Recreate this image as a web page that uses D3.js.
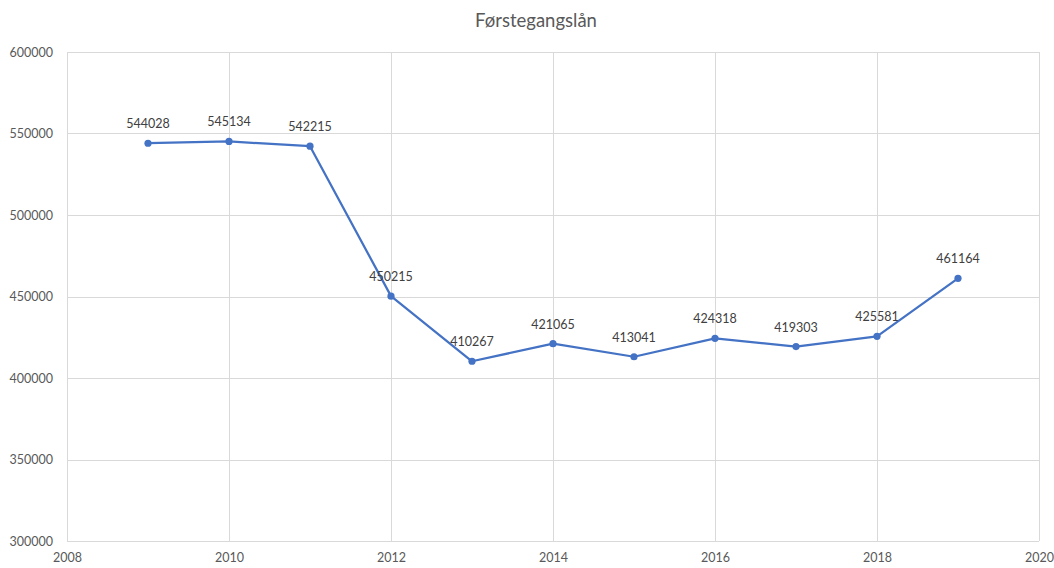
<!DOCTYPE html>
<html>
<head>
<meta charset="utf-8">
<script src="https://cdn.jsdelivr.net/npm/d3@7"></script>
<style>
  html, body { margin: 0; padding: 0; background: #fff; }
  svg { display: block; font-family: Lato, "Noto Sans", sans-serif; }
</style>
</head>
<body>
<svg id="chart" width="1054" height="568"></svg>
<script>
// data
const years = [2009, 2010, 2011, 2012, 2013, 2014, 2015, 2016, 2017, 2018, 2019];
const values = [544028, 545134, 542215, 450215, 410267, 421065, 413041, 424318, 419303, 425581, 461164];
const xTicks = [2008, 2010, 2012, 2014, 2016, 2018, 2020];
const yTicks = [300000, 350000, 400000, 450000, 500000, 550000, 600000];
const title = 'Førstegangslån';

const width = 1054, height = 568;
const margin = { top: 52, right: 15, bottom: 27, left: 67 };

const svg = d3.select('#chart');

const x = d3.scaleLinear([2008, 2020], [margin.left, width - margin.right]);
const y = d3.scaleLinear([300000, 600000], [height - margin.bottom, margin.top]);

// title
svg.append('text')
  .attr('x', 536)
  .attr('y', 27)
  .attr('text-anchor', 'middle')
  .attr('font-size', 18.5)
  .attr('fill', '#595959')
  .text(title);

// grid
const grid = svg.append('g').attr('stroke', '#d9d9d9').attr('stroke-width', 1);
grid.selectAll('.hgrid')
  .data(yTicks)
  .join('line')
    .attr('class', 'hgrid')
    .attr('x1', margin.left).attr('x2', width - margin.right)
    .attr('y1', d => Math.round(y(d)) + 0.5).attr('y2', d => Math.round(y(d)) + 0.5);
grid.selectAll('.vgrid')
  .data(xTicks)
  .join('line')
    .attr('class', 'vgrid')
    .attr('x1', d => Math.round(x(d)) + 0.5).attr('x2', d => Math.round(x(d)) + 0.5)
    .attr('y1', margin.top).attr('y2', height - margin.bottom);

// axes (labels only, Excel style)
const yAxis = svg.append('g')
  .attr('transform', `translate(${margin.left},0)`)
  .call(d3.axisLeft(y).tickValues(yTicks).tickFormat(d3.format('d')).tickSize(0).tickPadding(14));
const xAxis = svg.append('g')
  .attr('transform', `translate(0,${height - margin.bottom})`)
  .call(d3.axisBottom(x).tickValues(xTicks).tickFormat(d3.format('d')).tickSize(0).tickPadding(12));
[yAxis, xAxis].forEach(a => {
  a.select('.domain').remove();
  a.selectAll('text')
    .attr('font-family', 'Lato, "Noto Sans", sans-serif')
    .attr('font-size', 12.5)
    .attr('fill', '#595959');
});

const points = years.map((yr, i) => ({ year: yr, value: values[i] }));

// line
svg.append('path')
  .datum(points)
  .attr('fill', 'none')
  .attr('stroke', '#4472c4')
  .attr('stroke-width', 2.25)
  .attr('stroke-linejoin', 'round')
  .attr('d', d3.line().x(d => x(d.year)).y(d => y(d.value)));

// markers
svg.append('g')
  .selectAll('circle')
  .data(points)
  .join('circle')
    .attr('cx', d => x(d.year))
    .attr('cy', d => y(d.value))
    .attr('r', 3.6)
    .attr('fill', '#4472c4');

// data labels
svg.append('g')
  .selectAll('text')
  .data(points)
  .join('text')
    .attr('x', d => x(d.year))
    .attr('y', d => y(d.value) - 15)
    .attr('text-anchor', 'middle')
    .attr('font-size', 12.5)
    .attr('fill', '#404040')
    .text(d => d.value);
</script>
</body>
</html>
